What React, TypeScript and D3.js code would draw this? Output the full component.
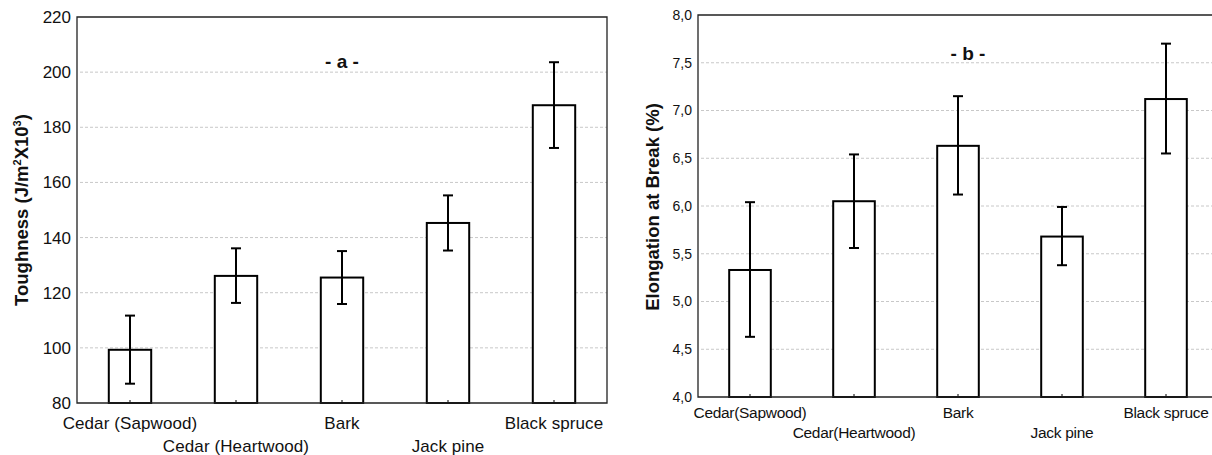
import React from "react";
import * as d3 from "d3";

const categories = ["Cedar (Sapwood)", "Cedar (Heartwood)", "Bark", "Jack pine", "Black spruce"];
const categoriesB = ["Cedar(Sapwood)", "Cedar(Heartwood)", "Bark", "Jack pine", "Black spruce"];

// panel a - toughness
const toughMean = [99.3, 126.1, 125.5, 145.3, 188.0];
const toughLow = [87.0, 116.3, 115.9, 135.3, 172.5];
const toughHigh = [111.7, 136.1, 135.1, 155.3, 203.6];
const toughTicks = [80, 100, 120, 140, 160, 180, 200, 220];

// panel b - elongation at break
const elongMean = [5.33, 6.05, 6.63, 5.68, 7.12];
const elongLow = [4.63, 5.56, 6.12, 5.38, 6.55];
const elongHigh = [6.04, 6.54, 7.15, 5.99, 7.7];
const elongTicks = [4.0, 4.5, 5.0, 5.5, 6.0, 6.5, 7.0, 7.5, 8.0];

const FONT = "'Liberation Sans', Arial, sans-serif";

type PanelProps = {
  left: number;
  right: number;
  top: number;
  bottom: number;
  labels: string[];
  mean: number[];
  low: number[];
  high: number[];
  ticks: number[];
  fmt: (v: number) => string;
  tickSize: number;
  labelSize: number;
  labelSpacing: number;
  rowY: [number, number];
  title: string;
  titleX: number;
  titleY: number;
  showRight: boolean;
};

function Panel(p: PanelProps) {
  const x = d3
    .scaleBand<string>()
    .domain(p.labels)
    .range([p.left, p.right])
    .paddingInner(0.6)
    .paddingOuter(0.3);
  const y = d3
    .scaleLinear()
    .domain([p.ticks[0], p.ticks[p.ticks.length - 1]])
    .range([p.bottom, p.top]);
  const bw = x.bandwidth();
  const cap = 5;

  return (
    <g fontFamily={FONT}>
      {/* grid */}
      {p.ticks.slice(1, -1).map((t) => (
        <line
          key={"g" + t}
          x1={p.left + 3}
          x2={p.right}
          y1={y(t)}
          y2={y(t)}
          stroke="#c8c8c8"
          strokeDasharray="3,2"
        />
      ))}
      {/* tick labels */}
      {p.ticks.map((t) => (
        <text
          key={"t" + t}
          x={p.left - 6}
          y={y(t)}
          dy="0.35em"
          textAnchor="end"
          fontSize={p.tickSize}
          fill="#111"
        >
          {p.fmt(t)}
        </text>
      ))}
      {/* bars */}
      {p.labels.map((c, i) => {
        const cx = (x(c) as number) + bw / 2;
        return (
          <g key={c}>
            <rect
              x={x(c)}
              y={y(p.mean[i])}
              width={bw}
              height={p.bottom - y(p.mean[i])}
              fill="#fff"
              stroke="#000"
              strokeWidth={2}
            />
            <line x1={cx} x2={cx} y1={p.bottom} y2={p.bottom - 3} stroke="#000" />
            <line x1={cx} x2={cx} y1={y(p.low[i])} y2={y(p.high[i])} stroke="#000" strokeWidth={2} />
            <line x1={cx - cap} x2={cx + cap} y1={y(p.low[i])} y2={y(p.low[i])} stroke="#000" strokeWidth={2} />
            <line x1={cx - cap} x2={cx + cap} y1={y(p.high[i])} y2={y(p.high[i])} stroke="#000" strokeWidth={2} />
            <text
              x={cx}
              y={p.rowY[i % 2]}
              dy="0.35em"
              textAnchor="middle"
              fontSize={p.labelSize}
              letterSpacing={p.labelSpacing}
              fill="#111"
            >
              {c}
            </text>
          </g>
        );
      })}
      {/* frame */}
      <path
        d={
          p.showRight
            ? `M${p.left},${p.top}H${p.right}V${p.bottom}H${p.left}Z`
            : `M${p.right},${p.top}H${p.left}V${p.bottom}H${p.right}`
        }
        fill="none"
        stroke="#222"
        strokeWidth={1.3}
      />
      <text
        x={p.titleX}
        y={p.titleY}
        dy="0.35em"
        textAnchor="middle"
        fontSize={19}
        fontWeight="bold"
        fill="#111"
      >
        {p.title}
      </text>
    </g>
  );
}

export default function App() {
  const comma = (v: number) => d3.format(".1f")(v).replace(".", ",");
  return (
    <svg
      width={1212}
      height={455}
      style={{ position: "absolute", left: 0, top: 0, background: "#fff" }}
    >
      <Panel
        left={77}
        right={607}
        top={17}
        bottom={403}
        labels={categories}
        mean={toughMean}
        low={toughLow}
        high={toughHigh}
        ticks={toughTicks}
        fmt={(v) => String(v)}
        tickSize={17}
        labelSize={17}
        labelSpacing={0.1}
        rowY={[423, 446]}
        title="- a -"
        titleX={342}
        titleY={61}
        showRight={true}
      />
      <Panel
        left={698}
        right={1218}
        top={15}
        bottom={397}
        labels={categoriesB}
        mean={elongMean}
        low={elongLow}
        high={elongHigh}
        ticks={elongTicks}
        fmt={comma}
        tickSize={14}
        labelSize={15.5}
        labelSpacing={-0.3}
        rowY={[413, 433]}
        title="- b -"
        titleX={968}
        titleY={53}
        showRight={false}
      />
      {/* y axis titles */}
      <text
        transform="translate(22,210) rotate(-90)"
        dy="0.35em"
        textAnchor="middle"
        fontFamily={FONT}
        fontSize={18.5}
        fontWeight="bold"
        fill="#111"
      >
        Toughness (J/m
        <tspan fontSize={11} dy="-7">2</tspan>
        <tspan dy="7">X10</tspan>
        <tspan fontSize={11} dy="-7">3</tspan>
        <tspan dy="7">)</tspan>
      </text>
      <text
        transform="translate(653,207) rotate(-90)"
        dy="0.35em"
        textAnchor="middle"
        fontFamily={FONT}
        fontSize={18.5}
        fontWeight="bold"
        fill="#111"
      >
        Elongation at Break (%)
      </text>
    </svg>
  );
}
